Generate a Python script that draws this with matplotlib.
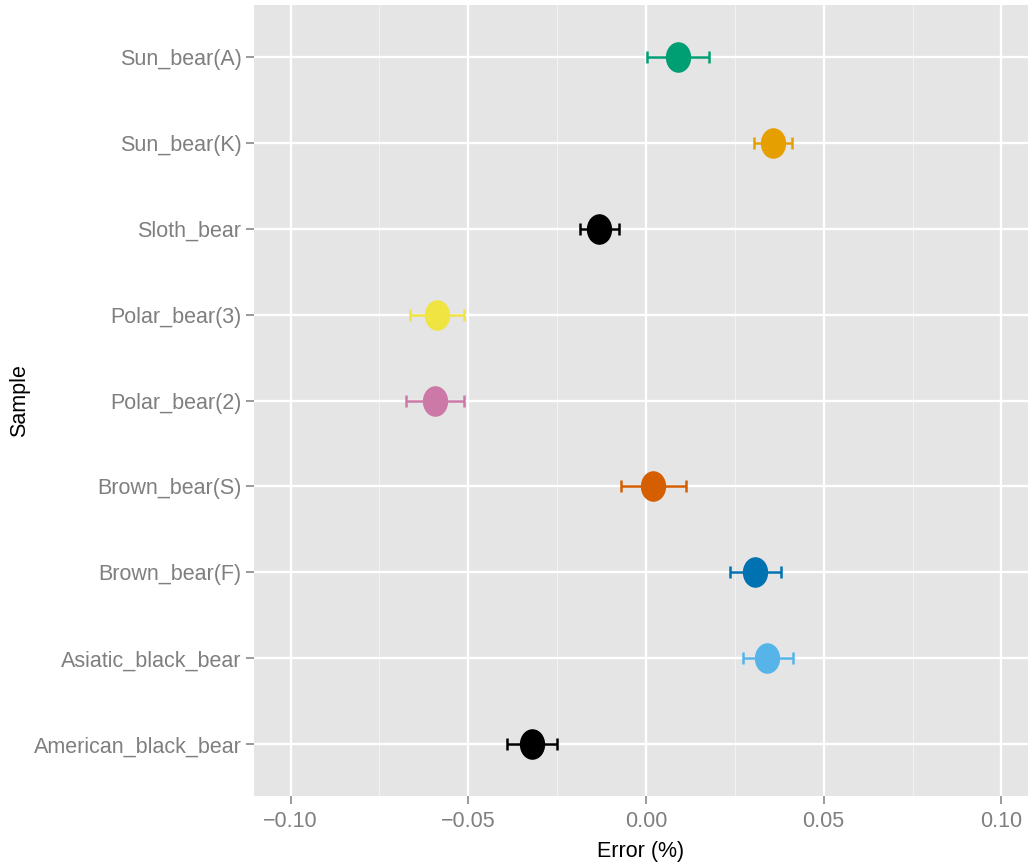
import matplotlib
matplotlib.use("Agg")
import matplotlib.pyplot as plt
from matplotlib.path import Path
from matplotlib.transforms import Affine2D
import numpy as np

# data
samples = ["American_black_bear", "Asiatic_black_bear", "Brown_bear(F)", "Brown_bear(S)",
           "Polar_bear(2)", "Polar_bear(3)", "Sloth_bear", "Sun_bear(K)", "Sun_bear(A)"]
error = [-0.0321, 0.0341, 0.0307, 0.0021, -0.0593, -0.0588, -0.0132, 0.0358, 0.0089]
err_lo = [-0.0390, 0.0272, 0.0236, -0.0071, -0.0675, -0.0664, -0.0187, 0.0305, 0.0002]
err_hi = [-0.0251, 0.0413, 0.0379, 0.0114, -0.0511, -0.0511, -0.0076, 0.0411, 0.0177]
colors = ["#000000", "#56B4E9", "#0072B2", "#D55E00", "#CC79A7",
          "#F0E442", "#000000", "#E69F00", "#009E73"]
xticks = [-0.10, -0.05, 0.00, 0.05, 0.10]
xminor = [-0.075, -0.025, 0.025, 0.075]

fnt = "Liberation Sans"

fig = plt.figure(figsize=(10.28, 8.67), dpi=100)
ax = fig.add_axes([0.2471, 0.0819, 0.7529, 0.9123])
ax.set_facecolor("#E5E5E5")
for s in ax.spines.values():
    s.set_visible(False)

# slightly squashed ellipse marker
ell = Path.unit_circle().transformed(Affine2D().scale(0.82, 1.0))

ypos = np.arange(1, len(samples) + 1)
for y, v, lo, hi, c in zip(ypos, error, err_lo, err_hi, colors):
    ax.errorbar(v, y, xerr=[[v - lo], [hi - v]], fmt="none", ecolor=c,
                elinewidth=1.8, capsize=4, capthick=1.8, zorder=3)
    ax.plot(v, y, marker=ell, markersize=21, color=c, mec=c, linestyle="none", zorder=4)

ax.set_xlim(-0.1103, 0.1075)
ax.set_ylim(0.4, len(samples) + 0.6)
ax.set_xticks(xticks)
ax.set_xticklabels(["\u22120.10", "\u22120.05", "0.00", "0.05", "0.10"])
ax.set_xticks(xminor, minor=True)
ax.set_yticks(ypos)
ax.set_yticklabels(samples)

ax.grid(which="major", color="white", linewidth=1.7)
ax.grid(which="minor", axis="x", color="#F2F2F2", linewidth=0.8)
ax.set_axisbelow(True)

ax.tick_params(axis="both", which="major", color="#7F7F7F", length=6, width=1.1,
               labelcolor="#7F7F7F", labelsize=15.5)
ax.tick_params(axis="x", which="major", pad=5)
ax.tick_params(axis="y", which="major", pad=3)
ax.tick_params(axis="x", which="minor", length=0)
for lab in ax.get_xticklabels() + ax.get_yticklabels():
    lab.set_fontfamily(fnt)

ax.set_xlabel("Error (%)", fontsize=15.5, fontfamily=fnt, labelpad=6)
ax.set_ylabel("Sample", fontsize=15.5, fontfamily=fnt)
ax.yaxis.set_label_coords(-0.289, 0.5)

fig.savefig("out.png", dpi=100)
